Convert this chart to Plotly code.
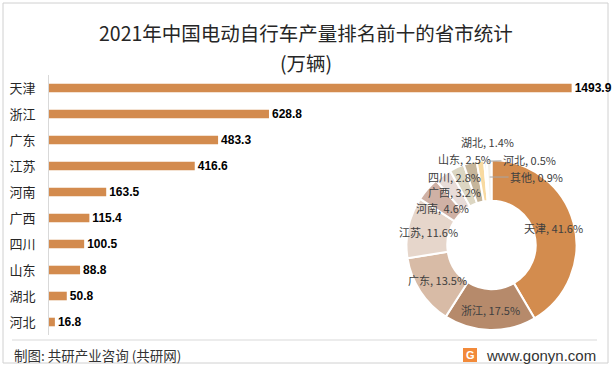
import math
import plotly.graph_objects as go

# ---------------- data ----------------
provinces = ["天津", "浙江", "广东", "江苏", "河南", "广西", "四川", "山东", "湖北", "河北"]
output_wan = [1493.9, 628.8, 483.3, 416.6, 163.5, 115.4, 100.5, 88.8, 50.8, 16.8]

pie_labels = ["天津", "浙江", "广东", "江苏", "河南", "广西", "四川", "山东", "湖北", "河北", "其他"]
pie_share = [41.6, 17.5, 13.5, 11.6, 4.6, 3.2, 2.8, 2.5, 1.4, 0.5, 0.9]

title_line1 = "2021年中国电动自行车产量排名前十的省市统计"
title_line2 = "(万辆)"
source_text = "制图: 共研产业咨询 (共研网)"
site_text = "www.gonyn.com"

# ---------------- style ----------------
W, H = 612, 370
BAR_COLOR = "#D38B4E"
PIE_COLORS = ["#D38C4E", "#B68A6B", "#D8BBA6", "#E6D6CB", "#CFB1A5", "#E8DCD8",
              "#DCD6C2", "#C6B59A", "#F8DAA1", "#EDEDED", "#F4F1EA"]
CJK = "Noto Sans CJK SC"


def px(x):
    return x / W


def py(y):
    return 1 - y / H


fig = go.Figure()

# bar chart
fig.add_trace(go.Bar(
    y=provinces, x=output_wan, orientation="h",
    marker=dict(color=BAR_COLOR, line=dict(width=0)),
    width=0.33,
    text=[f"{v:.1f}" for v in output_wan],
    textposition="outside",
    textfont=dict(family="Liberation Sans", size=12, color="#000000", weight="bold"),
    constraintext="none",
    cliponaxis=False,
    hoverinfo="skip",
    showlegend=False,
))

# donut
PIE_CX, PIE_CY, PIE_R = 491.5, 245.0, 85.0
HOLE = 0.52
fig.add_trace(go.Pie(
    labels=pie_labels, values=pie_share,
    sort=False, direction="clockwise", rotation=0,
    hole=HOLE,
    marker=dict(colors=PIE_COLORS, line=dict(color="#FFFFFF", width=2)),
    textinfo="none",
    hoverinfo="skip",
    showlegend=False,
    domain=dict(x=[px(PIE_CX - PIE_R), px(PIE_CX + PIE_R)],
                y=[py(PIE_CY + PIE_R), py(PIE_CY - PIE_R)]),
))

# pie labels computed from slice mid-angles
ring_mid = PIE_R * (1 + HOLE) / 2
label_nudge = {"河南": (0, 5), "四川": (-11, -9), "山东": (-11, -23), "湖北": (4, -39)}
leader = {"河北": (84, 44, -1), "其他": (68, 47, 0)}   # tip radius, label dx, dy
total = sum(pie_share)
cum = 0.0
annotations = []
for name, v in zip(pie_labels, pie_share):
    mid = math.radians((cum + v / 2) / total * 360)
    cum += v
    txt = f"{name}, {v:.1f}%"
    if name in leader:
        r, dx, dy = leader[name]
        tx = PIE_CX + r * math.sin(mid)
        ty = PIE_CY - r * math.cos(mid)
        annotations.append(dict(
            x=px(tx), y=py(ty), xref="paper", yref="paper",
            text=txt, showarrow=True, arrowhead=0, arrowwidth=1,
            arrowcolor="#A6A6A6", ax=dx, ay=dy, standoff=0,
            xanchor="center", yanchor="middle",
            font=dict(family=CJK, size=11, color="#404040")))
    else:
        lx = PIE_CX + ring_mid * math.sin(mid)
        ly = PIE_CY - ring_mid * math.cos(mid)
        ndx, ndy = label_nudge.get(name, (0, 0))
        annotations.append(dict(
            x=px(lx + ndx), y=py(ly + ndy), xref="paper", yref="paper",
            text=txt, showarrow=False, xanchor="center", yanchor="middle",
            font=dict(family=CJK, size=11, color="#404040")))

# titles & footer
annotations += [
    dict(x=0.5, y=py(32), xref="paper", yref="paper", text=title_line1, showarrow=False,
         xanchor="center", yanchor="middle",
         font=dict(family=CJK, size=19.5, color="#262626")),
    dict(x=0.5, y=py(62), xref="paper", yref="paper", text=title_line2, showarrow=False,
         xanchor="center", yanchor="middle",
         font=dict(family=CJK, size=19.5, color="#262626")),
    dict(x=px(12), y=py(355), xref="paper", yref="paper", text=source_text, showarrow=False,
         xanchor="left", yanchor="middle",
         font=dict(family=CJK, size=13.5, color="#333333")),
    dict(x=px(598), y=py(355), xref="paper", yref="paper", text=site_text, showarrow=False,
         xanchor="right", yanchor="middle",
         font=dict(family="Liberation Sans", size=15, color="#333333")),
    dict(x=px(470), y=py(355), xref="paper", yref="paper", text="<b>G</b>", showarrow=False,
         xanchor="center", yanchor="middle",
         font=dict(family="Liberation Sans", size=11, color="#FFFFFF")),
]

shapes = [
    dict(type="rect", xref="paper", yref="paper", x0=px(3), x1=px(608), y0=py(363), y1=py(3),
         line=dict(color="#D0D0D0", width=1), fillcolor="rgba(0,0,0,0)", layer="below"),
    dict(type="line", xref="paper", yref="paper", x0=px(12), x1=px(597), y0=py(340), y1=py(340),
         line=dict(color="#D9D9D9", width=1)),
    dict(type="rect", xref="paper", yref="paper", x0=px(463), x1=px(477), y0=py(362), y1=py(348),
         line=dict(width=0), fillcolor="#F28A3A"),
]

fig.update_layout(
    width=W, height=H,
    margin=dict(l=0, r=0, t=0, b=0),
    paper_bgcolor="#FFFFFF", plot_bgcolor="rgba(0,0,0,0)",
    xaxis=dict(domain=[px(49), px(600)], range=[0, 1575], showgrid=False, zeroline=False,
               showticklabels=False, showline=False, fixedrange=True),
    yaxis=dict(domain=[py(335), py(75)], range=[9.5, -0.5], showgrid=False, zeroline=False,
               showline=True, linecolor="#D9D9D9", linewidth=1, ticks="",
               ticklabelstandoff=10,
               tickfont=dict(family=CJK, size=13, color="#262626")),
    annotations=annotations,
    shapes=shapes,
)

fig.write_html("out.html", config={"displayModeBar": False})

# remove the browser's default 8px body margin so the figure fills the window exactly
with open("out.html", "r", encoding="utf-8") as f:
    html = f.read()
html = html.replace("<body>", '<body style="margin:0;padding:0;overflow:hidden;">', 1)
with open("out.html", "w", encoding="utf-8") as f:
    f.write(html)
